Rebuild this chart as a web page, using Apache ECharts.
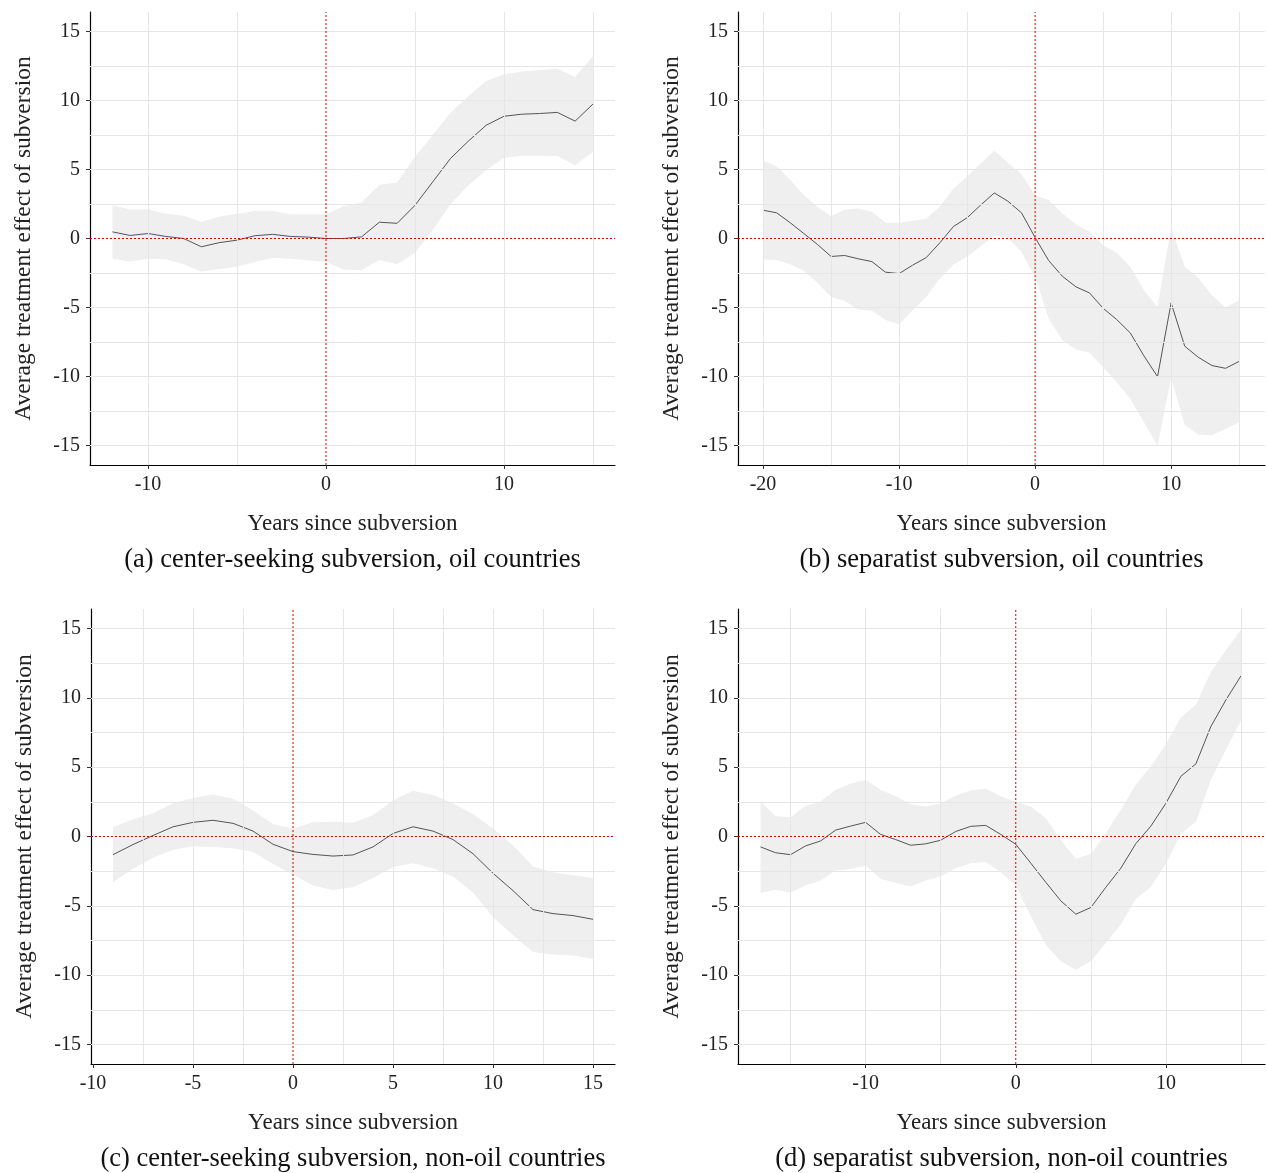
<!DOCTYPE html>
<html>
<head>
<meta charset="utf-8">
<script src="https://cdn.jsdelivr.net/npm/echarts@6/dist/echarts.min.js"></script>
<style>
  html, body { margin: 0; padding: 0; background: #fff; }
  #chart { width: 1267px; height: 1173px; }
</style>
</head>
<body>
<div id="chart"></div>
<script>
// panel (a) center-seeking, oil
var yearsA = [-12,-11,-10,-9,-8,-7,-6,-5,-4,-3,-2,-1,0,1,2,3,4,5,6,7,8,9,10,11,12,13,14,15]
var estA = [0.48,0.22,0.36,0.15,0,-0.6,-0.3,-0.12,0.2,0.3,0.15,0.1,0,0,0.12,1.18,1.1,2.4,4.1,5.8,7.05,8.2,8.85,9.0,9.05,9.13,8.5,9.73]
var upA = [2.4,2.1,2.1,1.8,1.65,1.2,1.6,1.8,2.0,2.0,1.75,1.75,1.75,2.35,2.6,3.9,4.05,5.9,7.5,9.1,10.3,11.4,11.9,12.1,12.2,12.3,11.7,13.2]
var loA = [-1.47,-1.67,-1.47,-1.5,-1.86,-2.4,-2.2,-2.05,-1.7,-1.4,-1.47,-1.57,-1.7,-2.25,-2.3,-1.55,-1.86,-1.04,0.6,2.5,3.86,4.95,5.85,6.0,6.0,5.97,5.3,6.28]

// panel (b) separatist, oil
var yearsB = [-20,-19,-18,-17,-16,-15,-14,-13,-12,-11,-10,-9,-8,-7,-6,-5,-4,-3,-2,-1,0,1,2,3,4,5,6,7,8,9,10,11,12,13,14,15]
var estB = [2.05,1.86,1.14,0.36,-0.43,-1.3,-1.23,-1.47,-1.67,-2.44,-2.54,-1.93,-1.38,-0.31,0.87,1.5,2.42,3.3,2.7,1.86,0.07,-1.6,-2.73,-3.5,-3.94,-5.05,-5.87,-6.84,-8.5,-10.0,-4.66,-7.8,-8.6,-9.2,-9.4,-8.9]
var upB = [5.63,5.24,4.23,3.14,2.3,1.62,2.1,2.17,1.93,1.14,1.14,1.28,1.43,2.3,3.62,4.47,5.43,6.35,5.48,4.66,3.14,2.78,1.81,1.04,0.48,-0.48,-1.04,-2.05,-3.74,-4.95,0.77,-2.05,-2.85,-4.1,-5.0,-4.47]
var loB = [-1.52,-1.55,-1.86,-2.34,-3.2,-4.23,-4.5,-5.14,-5.24,-5.9,-6.2,-5.2,-4.23,-2.9,-1.88,-1.33,-0.56,0.19,0.07,-0.97,-2.78,-5.8,-7.37,-8.04,-8.28,-9.3,-10.4,-11.6,-13.3,-15.0,-10.1,-13.5,-14.2,-14.25,-13.77,-13.3]

// panel (c) center-seeking, non-oil
var yearsC = [-9,-8,-7,-6,-5,-4,-3,-2,-1,0,1,2,3,4,5,6,7,8,9,10,11,12,13,14,15]
var estC = [-1.31,-0.58,0.07,0.7,1.02,1.17,0.95,0.39,-0.56,-1.09,-1.29,-1.41,-1.33,-0.75,0.22,0.7,0.39,-0.22,-1.24,-2.65,-3.9,-5.27,-5.56,-5.7,-5.97]
var upC = [0.66,1.24,1.67,2.4,2.77,3.03,2.72,1.87,0.9,0.56,1.02,1.07,1.0,1.55,2.6,3.3,3.0,2.4,1.6,0.58,-0.63,-2.16,-2.57,-2.8,-3.0]
var loC = [-3.3,-2.33,-1.53,-0.95,-0.7,-0.75,-0.85,-1.12,-1.97,-2.74,-3.54,-3.86,-3.66,-3.0,-2.2,-1.92,-2.28,-2.89,-4.03,-5.8,-7.1,-8.33,-8.5,-8.57,-8.83]

// panel (d) separatist, non-oil
var yearsD = [-17,-16,-15,-14,-13,-12,-11,-10,-9,-8,-7,-6,-5,-4,-3,-2,-1,0,1,2,3,4,5,6,7,8,9,10,11,12,13,14,15]
var estD = [-0.75,-1.17,-1.31,-0.68,-0.32,0.46,0.75,1.02,0.15,-0.22,-0.63,-0.53,-0.27,0.36,0.73,0.8,0.15,-0.56,-1.92,-3.3,-4.64,-5.6,-5.12,-3.66,-2.28,-0.51,0.75,2.4,4.34,5.24,7.94,9.85,11.58]
var upD = [2.52,1.48,1.38,2.2,2.52,3.37,3.8,4.1,3.37,2.9,2.33,2.16,2.4,2.94,3.33,3.45,2.9,2.52,2.16,1.31,-0.27,-1.6,-1.24,0.22,1.92,3.74,5.07,6.65,8.6,9.5,11.87,13.45,14.9]
var loD = [-4.08,-3.83,-4.03,-3.54,-3.18,-2.45,-2.35,-2.09,-3.06,-3.33,-3.6,-3.18,-2.89,-2.28,-1.92,-1.84,-2.57,-3.54,-5.73,-7.8,-9.0,-9.6,-9.0,-7.67,-6.33,-4.51,-3.62,-1.97,0.22,1.07,4.1,6.28,8.35]

var yLabels = [-15,-10,-5,0,5,10,15]
var yGrid = [-15,-12.5,-10,-7.5,-5,-2.5,2.5,5,7.5,10,12.5,15]
var zeroLine = [-16.4, 16.4]

var panels = [
    { years: yearsA, est: estA, up: upA, lo: loA, xmin: -13.26, xmax: 16.24,
      xLabels: [-10,0,10], xGrid: [-10,-5,5,10,15],
      caption: "(a) center-seeking subversion, oil countries",
      left: 90, top: 12, width: 525, height: 453 },
    { years: yearsB, est: estB, up: upB, lo: loB, xmin: -21.84, xmax: 16.9,
      xLabels: [-20,-10,0,10], xGrid: [-20,-15,-10,-5,5,10,15],
      caption: "(b) separatist subversion, oil countries",
      left: 738, top: 12, width: 527, height: 453 },
    { years: yearsC, est: estC, up: upC, lo: loC, xmin: -10.1, xmax: 16.1,
      xLabels: [-10,-5,0,5,10,15], xGrid: [-7.5,-5,-2.5,2.5,5,7.5,10,12.5,15],
      caption: "(c) center-seeking subversion, non-oil countries",
      left: 91, top: 609, width: 524, height: 455 },
    { years: yearsD, est: estD, up: upD, lo: loD, xmin: -18.5, xmax: 16.6,
      xLabels: [-10,0,10], xGrid: [-15,-10,-5,5,10,15],
      caption: "(d) separatist subversion, non-oil countries",
      left: 738, top: 609, width: 527, height: 455 }
]

var font = "'Liberation Serif', 'DejaVu Serif', serif"
var grids = [], xAxes = [], yAxes = [], series = [], graphics = []

panels.forEach(function (p, i) {
    grids.push({ left: p.left, top: p.top, width: p.width, height: p.height })
    xAxes.push({
        type: "value", gridIndex: i, min: p.xmin, max: p.xmax,
        name: "Years since subversion", nameLocation: "middle", nameGap: 47,
        nameTextStyle: { fontFamily: font, fontSize: 23, color: "#222" },
        axisLine: { onZero: false, lineStyle: { color: "#000", width: 1.2 } },
        axisTick: { show: true, customValues: p.xLabels, length: 4, lineStyle: { color: "#333" } },
        axisLabel: { customValues: p.xLabels, fontFamily: font, fontSize: 20, color: "#222", margin: 10 },
        splitLine: { show: false }
    })
    yAxes.push({
        type: "value", gridIndex: i, min: -16.4, max: 16.4,
        name: "Average treatment effect of subversion", nameLocation: "middle", nameGap: 54,
        nameTextStyle: { fontFamily: font, fontSize: 23.5, color: "#222" },
        axisLine: { show: true, onZero: false, lineStyle: { color: "#000", width: 1.2 } },
        axisTick: { show: true, customValues: yLabels, length: 4, lineStyle: { color: "#333" } },
        axisLabel: { customValues: yLabels, fontFamily: font, fontSize: 20, color: "#222", margin: 10 },
        splitLine: { show: false }
    })
    var gridLines = []
    yGrid.forEach(function (v) { gridLines.push({ yAxis: v }) })
    p.xGrid.forEach(function (v) { gridLines.push({ xAxis: v }) })
    series.push({
        type: "line", xAxisIndex: i, yAxisIndex: i, data: [], silent: true, z: 1,
        markLine: { symbol: "none", silent: true, label: { show: false },
            lineStyle: { color: "#e6e6e6", width: 1, type: "solid" }, data: gridLines }
    })
    // confidence band as one polygon
    series.push({
        type: "custom", xAxisIndex: i, yAxisIndex: i, silent: true, z: 2,
        data: p.years.map(function (y, k) { return [y, p.lo[k], p.up[k]] }),
        renderItem: function (params, api) {
            if (params.dataIndex !== 0) return
            var pts = []
            p.years.forEach(function (y, k) { pts.push(api.coord([y, p.up[k]])) })
            for (var k = p.years.length - 1; k >= 0; k--) pts.push(api.coord([p.years[k], p.lo[k]]))
            return { type: "polygon", shape: { points: pts }, style: { fill: "#efefef" } }
        }
    })
    series.push({
        type: "line", xAxisIndex: i, yAxisIndex: i, symbol: "none", z: 3,
        data: p.est.map(function (v, k) { return [p.years[k], v] }),
        lineStyle: { color: "#555", width: 1 }
    })
    // red reference lines at zero
    series.push({
        type: "line", xAxisIndex: i, yAxisIndex: i, symbol: "none", silent: true, z: 5,
        data: [[0, zeroLine[0]], [0, zeroLine[1]]],
        lineStyle: { color: "#e00000", width: 1, type: [2, 2] }
    })
    series.push({
        type: "line", xAxisIndex: i, yAxisIndex: i, symbol: "none", silent: true, z: 5,
        data: [[p.xmin, 0], [p.xmax, 0]],
        lineStyle: { color: "#e00000", width: 1, type: [2, 2] }
    })
    graphics.push({
        type: "text", x: p.left + p.width / 2, y: p.top + p.height + 82,
        style: { text: p.caption, font: "26.5px " + font, fill: "#111", textAlign: "center" }
    })
})

var chart = echarts.init(document.getElementById("chart"))
chart.setOption({
    animation: false,
    backgroundColor: "#fff",
    grid: grids,
    xAxis: xAxes,
    yAxis: yAxes,
    series: series,
    graphic: graphics
})
</script>
</body>
</html>
